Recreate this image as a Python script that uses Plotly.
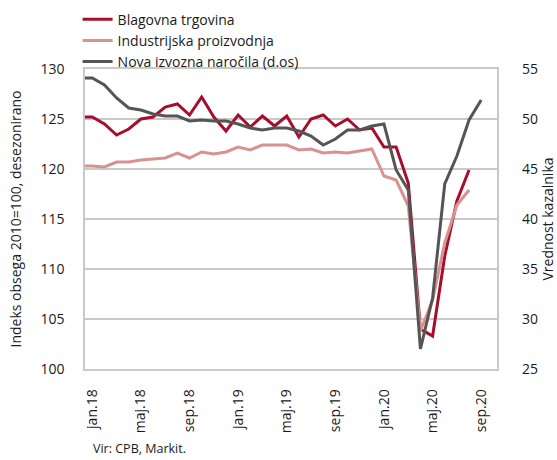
import plotly.graph_objects as go

months = ["dec.17",
          "jan.18", "feb.18", "mar.18", "apr.18", "maj.18", "jun.18", "jul.18", "avg.18", "sep.18", "okt.18", "nov.18", "dec.18",
          "jan.19", "feb.19", "mar.19", "apr.19", "maj.19", "jun.19", "jul.19", "avg.19", "sep.19", "okt.19", "nov.19", "dec.19",
          "jan.20", "feb.20", "mar.20", "apr.20", "maj.20", "jun.20", "jul.20", "avg.20", "sep.20"]

blagovna = [125.2,
            125.2, 124.5, 123.4, 124.0, 125.0, 125.2, 126.2, 126.5, 125.4, 127.2, 125.2, 123.8,
            125.4, 124.2, 125.3, 124.3, 125.3, 123.2, 125.0, 125.4, 124.3, 125.0, 123.9, 124.1,
            122.2, 122.2, 118.6, 104.0, 103.3, 111.3, 116.8, 119.9]

industrijska = [120.3,
                120.3, 120.2, 120.7, 120.7, 120.9, 121.0, 121.1, 121.6, 121.1, 121.7, 121.5, 121.7,
                122.2, 121.9, 122.4, 122.4, 122.4, 121.9, 122.0, 121.6, 121.7, 121.6, 121.8, 122.0,
                119.3, 118.9, 116.3, 103.8, 106.9, 112.6, 116.4, 117.9]

narocila = [54.1,
            54.1, 53.4, 52.1, 51.1, 50.9, 50.5, 50.3, 50.3, 49.8, 49.9, 49.8, 49.8,
            49.5, 49.1, 48.9, 49.1, 49.1, 48.8, 48.3, 47.4, 48.0, 48.9, 48.9, 49.3,
            49.5, 44.9, 42.9, 27.0, 32.1, 43.5, 46.3, 49.9, 51.9]

tick_labels = ["jan.18", "maj.18", "sep.18", "jan.19", "maj.19", "sep.19", "jan.20", "maj.20", "sep.20"]

x_idx = list(range(-1, len(months) - 1))
tick_vals = [x_idx[months.index(t)] for t in tick_labels]

RED = "#A50F2D"
PINK = "#D8928F"
GRAY = "#555555"
GRID = "#C9C9C9"
FONT = "Open Sans"

fig = go.Figure()
fig.add_trace(go.Scatter(x=x_idx[:len(blagovna)], y=blagovna, mode="lines", name="Blagovna trgovina",
                         line=dict(color=RED, width=3)))
fig.add_trace(go.Scatter(x=x_idx[:len(industrijska)], y=industrijska, mode="lines", name="Industrijska proizvodnja",
                         line=dict(color=PINK, width=3)))
fig.add_trace(go.Scatter(x=x_idx[:len(narocila)], y=narocila, mode="lines", name="Nova izvozna naročila (d.os)",
                         line=dict(color=GRAY, width=3), yaxis="y2"))

fig.update_layout(
    width=557, height=460,
    margin=dict(l=85, r=60, t=69, b=91, autoexpand=False),
    plot_bgcolor="white", paper_bgcolor="white",
    font=dict(family=FONT, size=14, color="#1a1a1a"),
    showlegend=True,
    legend=dict(x=-0.018, y=1.218, xanchor="left", yanchor="top", bgcolor="rgba(0,0,0,0)",
                font=dict(size=14), tracegroupgap=0, itemwidth=30),
    xaxis=dict(range=[-0.6, 33.3], tickmode="array", tickvals=tick_vals, ticktext=tick_labels,
               tickangle=-90, showgrid=False, zeroline=False, showline=True, linecolor=GRID, linewidth=1.5,
               mirror=True, ticks="", ticklabelstandoff=13, tickfont=dict(size=14)),
    yaxis=dict(range=[100, 130], dtick=5, showgrid=True, gridcolor=GRID, gridwidth=1.5, zeroline=False,
               showline=True, linecolor=GRID, linewidth=1.5, mirror=True, ticks="", ticklabelstandoff=16,
               title=dict(text="Indeks obsega 2010=100, desezonirano", standoff=16, font=dict(size=14)),
               tickfont=dict(size=14)),
    yaxis2=dict(range=[25, 55], dtick=5, overlaying="y", side="right", showgrid=False, zeroline=False,
                showline=False, ticks="", ticklabelstandoff=24,
                title=dict(text="Vrednost kazalnika", standoff=2, font=dict(size=14)),
                tickfont=dict(size=14)),
    annotations=[dict(text="Vir: CPB, Markit.", x=0.015, y=-0.265, xref="paper", yref="paper",
                      xanchor="left", yanchor="middle", showarrow=False, font=dict(size=12.5))],
)

fig.write_html("out.html", config={"displayModeBar": False},
               post_script="document.body.style.margin='0';document.body.style.overflow='hidden';")
